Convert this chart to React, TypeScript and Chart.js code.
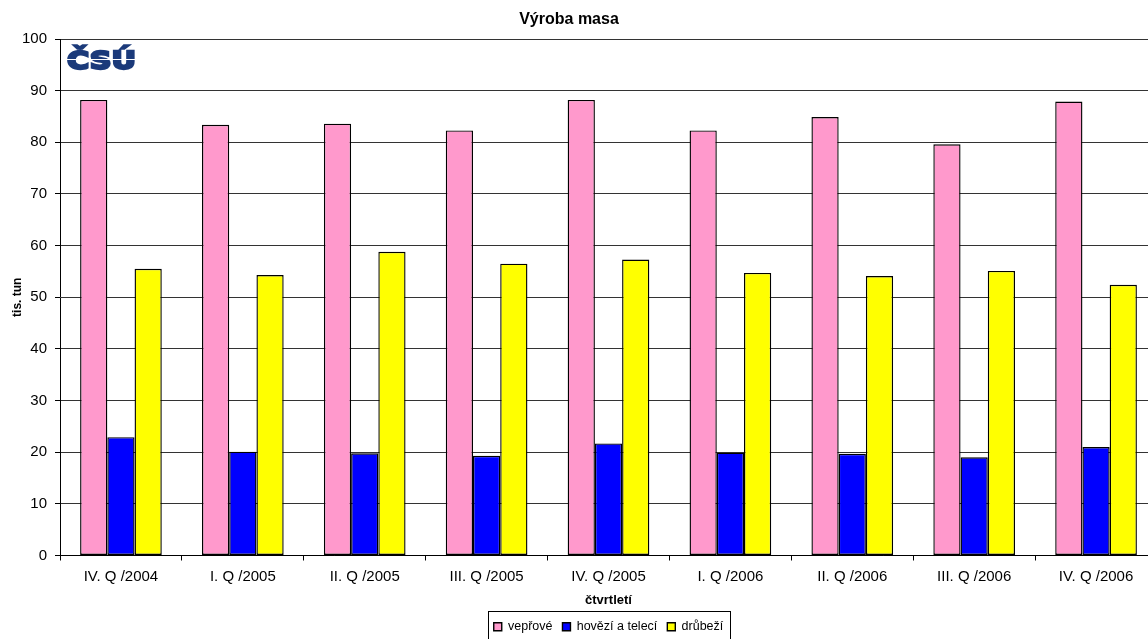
import React, { useEffect, useRef } from "react";
import { Chart, registerables } from "chart.js";

Chart.register(...registerables);

// Quarterly meat production, thousand tonnes
const categories = [
  "IV. Q /2004",
  "I. Q /2005",
  "II. Q /2005",
  "III. Q /2005",
  "IV. Q /2005",
  "I. Q /2006",
  "II. Q /2006",
  "III. Q /2006",
  "IV. Q /2006",
];
const veprove = [88.2, 83.4, 83.6, 82.3, 88.2, 82.3, 84.9, 79.6, 87.9];
const hovezi = [22.9, 20.1, 19.8, 19.3, 21.7, 19.9, 19.7, 19.0, 21.0];
const drubezi = [55.5, 54.3, 58.8, 56.5, 57.3, 54.7, 54.1, 55.1, 52.4];

const seriesNames = ["vepřové", "hovězí a telecí", "drůbeží"];
const seriesColors = ["#FF99CC", "#0000FF", "#FFFF00"];

const FONT = "'Liberation Sans', Arial, sans-serif";

// Frame around the legend items, as in the office chart style
const legendFrame = {
  id: "legendFrame",
  afterDraw(chart: any) {
    const lg = chart.legend;
    if (!lg || !lg.legendHitBoxes || !lg.legendHitBoxes.length) return;
    const boxes = lg.legendHitBoxes;
    let l = Infinity;
    let r = -Infinity;
    boxes.forEach((b: any) => {
      l = Math.min(l, b.left);
      r = Math.max(r, b.left + b.width);
    });
    const cy = boxes[0].top + boxes[0].height / 2;
    const ctx = chart.ctx;
    ctx.save();
    ctx.strokeStyle = "#000";
    ctx.lineWidth = 1;
    ctx.strokeRect(Math.round(l - 6) + 0.5, Math.round(cy - 16) + 0.5, Math.round(r - l + 12), 32);
    ctx.restore();
  },
};

// Office logo in the upper left corner of the plot
const logo = {
  id: "csuLogo",
  afterDatasetsDraw(chart: any) {
    const { ctx, chartArea } = chart;
    const x = chartArea.left + 7;
    const y = chartArea.top + 30;
    ctx.save();
    ctx.font = `bold 24px 'DejaVu Sans', sans-serif`;
    const w = ctx.measureText("ČSÚ").width;
    ctx.translate(x, y);
    ctx.scale(69 / w, 1.05);
    ctx.fillStyle = "#1B3A7A";
    ctx.strokeStyle = "#1B3A7A";
    ctx.lineWidth = 2.2;
    ctx.lineJoin = "miter";
    ctx.textBaseline = "alphabetic";
    ctx.fillText("ČSÚ", 0, 0);
    ctx.strokeText("ČSÚ", 0, 0);
    ctx.restore();
    ctx.save();
    ctx.fillStyle = "#fff";
    ctx.fillRect(x - 2, chartArea.top + 20, 74, 1);
    ctx.restore();
  },
};

// Title is centred over the whole sheet width rather than the canvas
const titleShift = {
  id: "titleShift",
  afterLayout(chart: any) {
    const t = chart.titleBlock;
    if (t) {
      t.left = 0;
      t.right = 1138;
    }
  },
};

export default function App() {
  const ref = useRef<HTMLCanvasElement | null>(null);

  useEffect(() => {
    if (!ref.current) return;
    Chart.defaults.font.family = FONT;
    Chart.defaults.color = "#000";
    const data = [veprove, hovezi, drubezi];
    const chart = new Chart(ref.current, {
      type: "bar",
      data: {
        labels: categories,
        datasets: data.map((d, i) => ({
          label: seriesNames[i],
          data: d,
          backgroundColor: seriesColors[i],
          borderColor: "#000",
          borderWidth: 1.4,
          borderSkipped: false,
          categoryPercentage: 0.67,
          barPercentage: 1,
        })),
      },
      options: {
        responsive: false,
        animation: false,
        devicePixelRatio: 1,
        layout: { padding: 0 },
        plugins: {
          title: {
            display: true,
            text: "Výroba masa",
            color: "#000",
            font: { size: 16, weight: "bold", family: FONT },
            padding: { top: 10, bottom: 9.8 },
          },
          legend: {
            display: true,
            position: "bottom",
            fullSize: false,
            labels: {
              boxWidth: 8,
              boxHeight: 8,
              padding: 10,
              color: "#000",
              font: { size: 12.5, family: FONT },
            },
          },
          tooltip: { enabled: false },
        },
        scales: {
          x: {
            grid: {
              display: true,
              drawOnChartArea: false,
              drawTicks: true,
              tickLength: 5,
              offset: true,
              color: "#000",
            },
            border: { color: "#000", width: 1 },
            ticks: {
              color: "#000",
              font: { size: 15, family: FONT },
              padding: 7,
              maxRotation: 0,
              autoSkip: false,
            },
            title: {
              display: true,
              text: "čtvrtletí",
              color: "#000",
              font: { size: 13, weight: "bold", family: FONT },
              padding: { top: 0, bottom: 2.2 },
            },
            afterFit(scale: any) {
              scale.height = 55;
            },
          },
          y: {
            min: 0,
            max: 100,
            grid: {
              color: "#333",
              tickColor: "#000",
              tickLength: 5,
              drawTicks: true,
            },
            border: { color: "#000", width: 1 },
            ticks: {
              stepSize: 10,
              color: "#000",
              font: { size: 15, family: FONT },
              padding: 8,
            },
            title: {
              display: true,
              text: "tis. tun",
              color: "#000",
              font: { size: 12, weight: "bold", family: FONT },
              padding: { top: 10, bottom: 0 },
            },
            afterFit(scale: any) {
              scale.width = 60;
            },
          },
        },
      },
      plugins: [legendFrame, logo, titleShift],
    });
    return () => chart.destroy();
  }, []);

  return (
    <div
      style={{
        position: "fixed",
        left: 0,
        top: 0,
        width: 1148,
        height: 639,
        overflow: "hidden",
        background: "#fff",
      }}
    >
      <canvas ref={ref} width={1157} height={643} style={{ display: "block" }} />
    </div>
  );
}
